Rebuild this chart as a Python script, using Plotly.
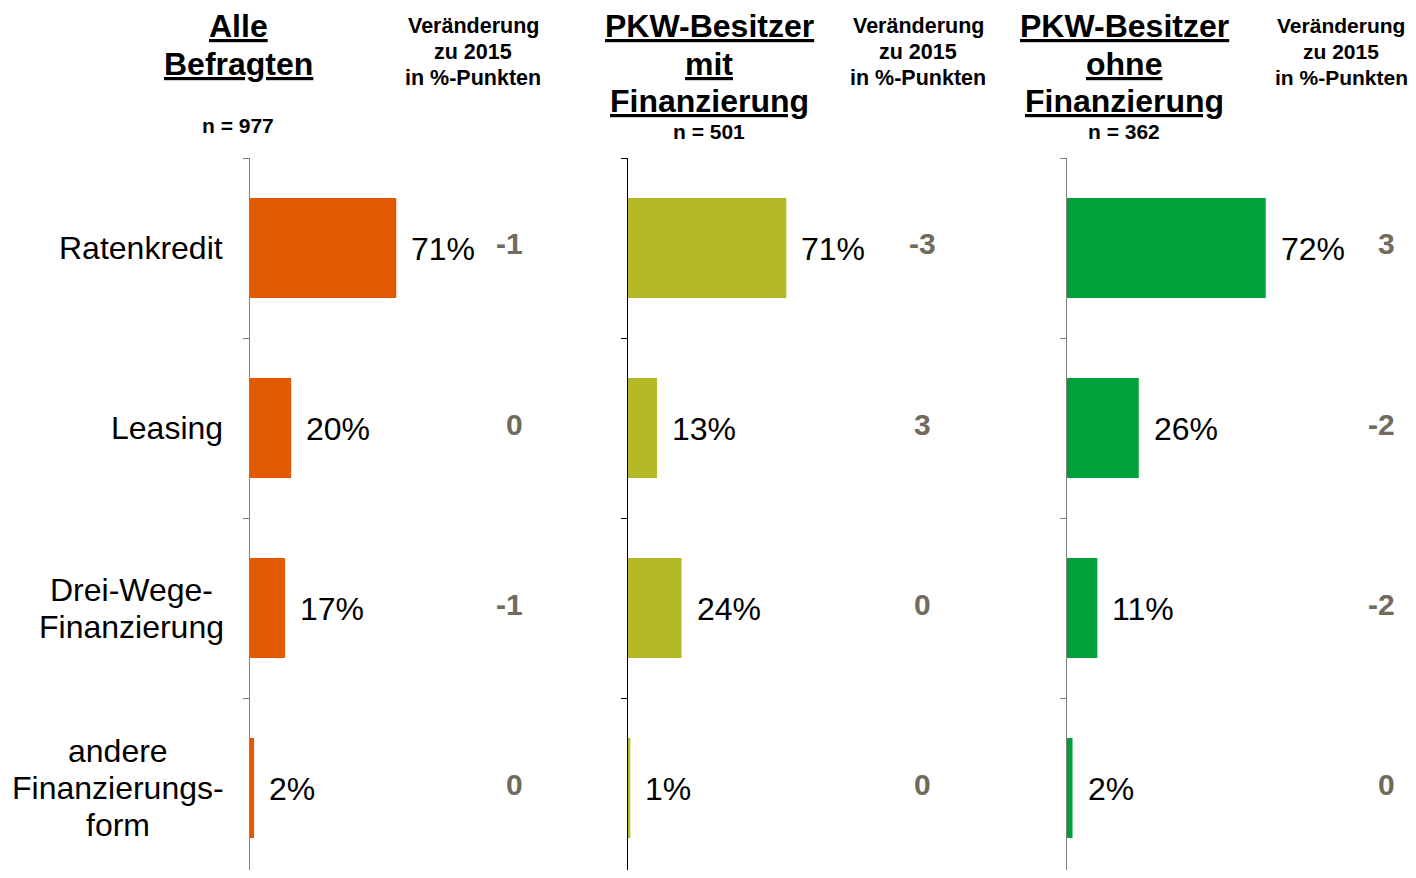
import plotly.graph_objects as go

# ---------------- data ----------------
categories = ["Ratenkredit", "Leasing", "Drei-Wege-<br>Finanzierung", "andere<br>Finanzierungs-<br>form"]
panel_titles = ["Alle<br>Befragten", "PKW-Besitzer<br>mit<br>Finanzierung", "PKW-Besitzer<br>ohne<br>Finanzierung"]
sample_sizes = ["n = 977", "n = 501", "n = 362"]
change_header = "Veränderung<br>zu 2015<br>in %-Punkten"

alle = [71, 20, 17, 2]
mit_fin = [71, 13, 24, 1]
ohne_fin = [72, 26, 11, 2]

delta_alle = ["-1", "0", "-1", "0"]
delta_mit = ["-3", "3", "0", "0"]
delta_ohne = ["3", "-2", "-2", "0"]

values = [alle, mit_fin, ohne_fin]
deltas = [delta_alle, delta_mit, delta_ohne]

# ---------------- layout / style ----------------
OFF = 8                      # page body margin of the html page
W, H = 1416 - OFF, 878 - 2 * OFF
FONT = "Liberation Sans, Arial, sans-serif"
DELTA_COLOR = "#706B5C"

panels = [
    dict(x0=250, x1=560, ppu=2.06, color="#E35A00", line="#7F7F7F",
         title_cx=238, n_y=126, head_cx=473, head_size=21.5,
         delta_x=525, delta_anchor="right"),
    dict(x0=628, x1=1000, ppu=2.23, color="#B4B926", line="#000000",
         title_cx=709, n_y=132, head_cx=918, head_size=21.5,
         delta_x=922, delta_anchor="center"),
    dict(x0=1067, x1=1416, ppu=2.76, color="#00A03A", line="#7F7F7F",
         title_cx=1124, n_y=132, head_cx=1341, head_size=21,
         delta_x=1397, delta_anchor="right"),
]

# horizontal placement of the category label blocks (screen px):
# single-line labels are right-aligned, multi-line blocks are centred
LABEL_RIGHT = 225
LABEL_BLOCK_CX = [None, None, 131, 118]

Y_TOP = 158        # screen y of the top of the plotting area
CAT_PX = 180       # screen px per category row


def px(x):
    return (x - OFF) / W


def py(y):
    return 1 - (y - OFF) / H


fig = go.Figure()
annotations = []


def multiline(text, x, y, xref, yref, size, spacing, bold=False, underline=False,
              xanchor="center", color="#000000"):
    """Place each line as its own annotation so the line spacing is exact."""
    lines = text.split("<br>")
    n = len(lines)
    for j, ln in enumerate(lines):
        t = ln
        if underline:
            t = f"<span style='text-decoration:underline'>{t}</span>"
        if bold:
            t = f"<b>{t}</b>"
        shift = ((n - 1) / 2 - j) * spacing
        annotations.append(dict(
            x=x, y=y, xref=xref, yref=yref, text=t, showarrow=False,
            xanchor=xanchor, yanchor="middle", yshift=shift, align="center",
            font=dict(family=FONT, size=size, color=color)))


y_bottom_cat = -0.5 + ((H + OFF) - Y_TOP) / CAT_PX

for i, (p, vals, dl) in enumerate(zip(panels, values, deltas)):
    k = "" if i == 0 else str(i + 1)
    xa, ya = "x" + k, "y" + k
    fig.add_trace(go.Bar(
        x=vals, y=categories, orientation="h",
        marker=dict(color=p["color"], line=dict(width=0)),
        width=100 / CAT_PX, xaxis=xa, yaxis=ya, showlegend=False,
        hoverinfo="x+y",
    ))
    rng = (min(p["x1"], W + OFF) - p["x0"]) / p["ppu"]
    fig.update_layout(**{
        "xaxis" + k: dict(domain=[px(p["x0"]), min(1, px(p["x1"]))], range=[0, rng],
                          anchor=ya, visible=False, fixedrange=True),
        "yaxis" + k: dict(domain=[0, py(Y_TOP)], anchor=xa, type="category",
                          categoryorder="array", categoryarray=categories,
                          range=[y_bottom_cat, -0.5], showticklabels=False,
                          ticks="outside", tickson="boundaries", ticklen=6,
                          tickcolor=p["line"], tickwidth=1,
                          showline=True, linecolor=p["line"], linewidth=1,
                          showgrid=False, zeroline=False, fixedrange=True),
    })
    # value labels
    for c, v in zip(categories, vals):
        annotations.append(dict(
            x=v, y=c, xref=xa, yref=ya, text=f"{v}%", showarrow=False,
            xanchor="left", yanchor="middle", xshift=13, yshift=-1,
            font=dict(family=FONT, size=32, color="#000000")))
    # change labels
    for c, d in zip(categories, dl):
        annotations.append(dict(
            x=px(p["delta_x"]), y=c, xref="paper", yref=ya,
            text=f"<b>{d}</b>", showarrow=False,
            xanchor=p["delta_anchor"], yanchor="middle", yshift=4,
            font=dict(family=FONT, size=30, color=DELTA_COLOR)))
    # panel title (lines centred at ~26, 64, 101 px)
    n_lines = len(panel_titles[i].split("<br>"))
    title_mid = 26 + (n_lines - 1) * 37.5 / 2
    multiline(panel_titles[i], px(p["title_cx"]), py(title_mid), "paper", "paper",
              size=32, spacing=37.5, bold=True, underline=True)
    annotations.append(dict(
        x=px(p["title_cx"]), y=py(p["n_y"]), xref="paper", yref="paper",
        text=f"<b>{sample_sizes[i]}</b>", showarrow=False,
        xanchor="center", yanchor="middle",
        font=dict(family=FONT, size=21, color="#000000")))
    multiline(change_header, px(p["head_cx"]), py(52), "paper", "paper",
              size=p["head_size"], spacing=26, bold=True)

# category labels
for c, cx in zip(categories, LABEL_BLOCK_CX):
    if cx is None:
        multiline(c, px(LABEL_RIGHT), c, "paper", "y", size=32, spacing=37,
                  xanchor="right")
    else:
        multiline(c, px(cx), c, "paper", "y", size=32, spacing=37,
                  xanchor="center")

fig.update_layout(
    width=W, height=H, margin=dict(l=0, r=0, t=0, b=0),
    paper_bgcolor="white", plot_bgcolor="white",
    annotations=annotations, bargap=0.45,
)

fig.write_html("out.html")
